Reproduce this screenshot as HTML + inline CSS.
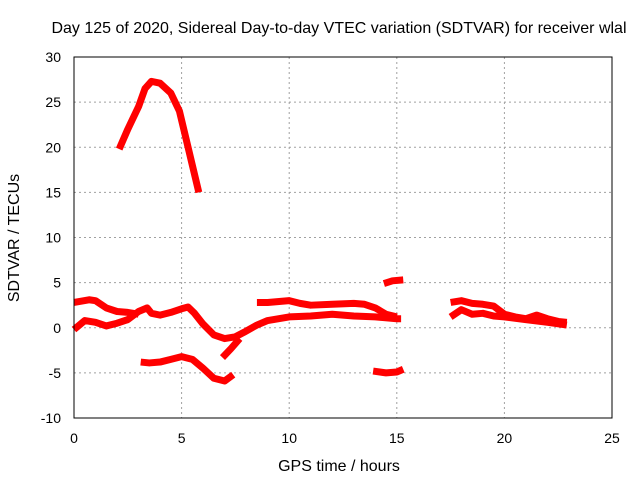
<!DOCTYPE html>
<html><head><meta charset="utf-8"><style>
body{margin:0;background:#fff}
svg{display:block;font-family:"Liberation Sans",sans-serif;font-size:14px}
.big{font-size:16px}
</style></head><body>
<svg id="c" width="640" height="480">
<text class="big" x="339" y="33" text-anchor="middle">Day 125 of 2020, Sidereal Day-to-day VTEC variation (SDTVAR) for receiver wlal</text>
<text class="big" x="339" y="471" text-anchor="middle">GPS time / hours</text>
<text class="big" transform="translate(19,238) rotate(-90)" text-anchor="middle">SDTVAR / TECUs</text>
<g id="grid"></g><g id="ticks"></g><g id="marks"></g>
<rect x="74" y="57" width="538" height="361" fill="none" stroke="#000"/>
</svg>
<script>
const xTicks=[0,5,10,15,20,25];
const yTicks=[-10,-5,0,5,10,15,20,25,30];
const arcTop=[[2.1,19.8],[2.5,22],[3,24.5],[3.3,26.5],[3.6,27.3],[4,27.1],[4.5,26],[4.9,24],[5.2,21],[5.5,18],[5.8,15]];
const upperLeft=[[0,2.8],[0.7,3.1],[1,3.0],[1.5,2.2],[2,1.8],[2.5,1.7],[3,1.5]];
const mainTrack=[[0,-0.2],[0.5,0.8],[1,0.6],[1.5,0.2],[2,0.5],[2.5,0.9],[3,1.8],[3.4,2.2],[3.6,1.6],[4,1.4],[4.5,1.7],[5,2.1],[5.3,2.3],[5.6,1.6],[6,0.4],[6.5,-0.8],[7,-1.2],[7.5,-1.0],[7.9,-0.5],[8.5,0.3],[9,0.8],[10,1.2],[11,1.3],[12,1.5],[13,1.3],[14,1.2],[15,1.0],[15.2,1.0]];
const upperMid=[[8.5,2.8],[9,2.8],[10,3.0],[10.5,2.7],[11,2.5],[12,2.6],[13,2.7],[13.5,2.6],[14,2.2],[14.5,1.5],[15,1.2]];
const branch=[[6.9,-3.3],[7.3,-2.3],[7.7,-1.2]];
const lowerLeft=[[3.1,-3.8],[3.5,-3.9],[4,-3.8],[4.5,-3.5],[5,-3.2],[5.5,-3.5],[6,-4.5],[6.5,-5.6],[7,-5.9],[7.4,-5.2]];
const highSmall=[[14.4,4.9],[14.8,5.2],[15.3,5.3]];
const lowSmall=[[13.9,-4.8],[14.5,-5.0],[15,-4.9],[15.3,-4.6]];
const rightUpper=[[17.5,2.8],[18,3.0],[18.5,2.7],[19,2.6],[19.5,2.4],[20,1.5],[20.5,1.2],[21,1.0],[21.5,1.4],[22,1.0],[22.5,0.7],[22.9,0.6]];
const rightLower=[[17.5,1.2],[18,2.0],[18.5,1.5],[19,1.6],[19.5,1.3],[20,1.2],[21,0.9],[22,0.6],[22.9,0.3]];
const series=[arcTop,upperLeft,mainTrack,upperMid,branch,lowerLeft,highSmall,lowSmall,rightUpper,rightLower];
const NS="http://www.w3.org/2000/svg";
const X=v=>74+v*538/25, Y=v=>418-(v+10)*361/40;
const g=document.getElementById('grid'),t=document.getElementById('ticks'),m=document.getElementById('marks');
function mk(tag,a,p){const e=document.createElementNS(NS,tag);for(const k in a)e.setAttribute(k,a[k]);p.appendChild(e);return e;}
xTicks.forEach(v=>{
 if(v>0&&v<25){const l=mk('line',{x1:X(v),x2:X(v),y1:57,y2:418,stroke:'#a0a0a0','stroke-dasharray':'2,3'},g);
 
 }
 const tx=mk('text',{x:X(v),y:443,'text-anchor':'middle'},t);tx.textContent=v;
 
 
});
yTicks.forEach(v=>{
 if(v>-10&&v<30){const l=mk('line',{x1:74,x2:612,y1:Y(v),y2:Y(v),stroke:'#a0a0a0','stroke-dasharray':'2,3'},g);
 
 }
 const tx=mk('text',{x:61,y:Y(v)+5,'text-anchor':'end'},t);tx.textContent=v;
 
 
});
series.forEach(s=>{
 const p=mk('polyline',{points:s.map(d=>X(d[0])+','+Y(d[1])).join(' '),fill:'none',stroke:'#f00','stroke-width':7,'stroke-linejoin':'round'},m);
 
 
});
</script>
</body></html>
